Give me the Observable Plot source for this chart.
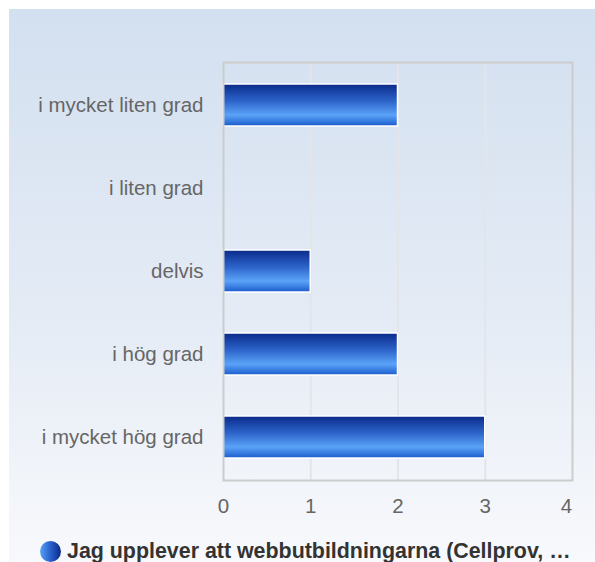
<!DOCTYPE html>
<html>
<head>
<meta charset="utf-8">
<script src="https://cdn.jsdelivr.net/npm/d3@7"></script>
<script src="https://cdn.jsdelivr.net/npm/@observablehq/plot@0.6"></script>
<style>
  html, body { margin: 0; padding: 0; background: #ffffff; }
  #wrap { position: relative; width: 595px; height: 562px; overflow: hidden; font-family: "Liberation Sans", Arial, sans-serif; }
  #panel { position: absolute; left: 9px; top: 9px; right: 0; bottom: 0;
           background: linear-gradient(to bottom, #d3e0f0 0%, #e4ebf5 55%, #f8f9fc 100%); }
  #chart { position: absolute; left: 0; top: 0; }
  #legend { position: absolute; left: 40px; top: 539px; display: flex; align-items: center;
            font-size: 21.4px; font-weight: bold; color: #333; white-space: nowrap; }
  #legend .dot { width: 21px; height: 21px; border-radius: 50%; margin-right: 6px;
                 background: linear-gradient(to right, #5aa2f5 0%, #2b65d2 45%, #0b2a86 100%); }
</style>
</head>
<body>
<svg width="0" height="0" style="position:absolute">
  <defs>
    <linearGradient id="barGrad" x1="0" y1="0" x2="0" y2="1">
      <stop offset="0%" stop-color="#0a2a8a"/>
      <stop offset="40%" stop-color="#2c63c9"/>
      <stop offset="74%" stop-color="#5aa3f8"/>
      <stop offset="100%" stop-color="#1b5bcc"/>
    </linearGradient>
  </defs>
</svg>
<div id="wrap">
  <div id="panel"></div>
  <div id="chart"></div>
  <div id="legend"><span class="dot"></span><span>Jag upplever att webbutbildningarna (Cellprov, …</span></div>
</div>
<script>
const categories = ["i mycket liten grad", "i liten grad", "delvis", "i hög grad", "i mycket hög grad"];
const values = [2, 0, 1, 2, 3];
const xTicks = [0, 1, 2, 3, 4];
const gridTicks = [1, 2, 3];

const data = categories.map((c, i) => ({category: c, value: values[i]}));
const lastTick = xTicks[xTicks.length - 1];

const chart = Plot.plot({
  width: 595,
  height: 525,
  marginLeft: 223,
  marginRight: 23,
  marginTop: 62,
  marginBottom: 45,
  style: {background: "transparent", fontFamily: "'Liberation Sans', Arial, sans-serif", fontSize: "20.5px", color: "#666"},
  x: {domain: [0, 4], ticks: xTicks, tickSize: 0, tickPadding: 18, label: null},
  y: {domain: categories, paddingInner: 0.5, paddingOuter: 0.25, tickSize: 0, tickPadding: 20, label: null},
  marks: [
    Plot.ruleX(gridTicks, {stroke: "#e3e5e9", strokeWidth: 2}),
    Plot.barX(data.filter(d => d.value > 0), {x: "value", y: "category", fill: "url(#barGrad)", stroke: "#ffffff", strokeWidth: 1.5}),
    Plot.frame({stroke: "#cccccc", strokeWidth: 2}),
    Plot.axisX({ticks: xTicks.slice(0, -1), tickFormat: d3.format("d"), tickSize: 0, tickPadding: 18, fill: "#666", fontSize: 20.5, label: null}),
    Plot.axisX({ticks: [lastTick], tickFormat: d3.format("d"), tickSize: 0, tickPadding: 18, fill: "#666", fontSize: 20.5, dx: -6, label: null}),
    Plot.axisY({tickSize: 0, tickPadding: 20, fill: "#666", fontSize: 20.5})
  ]
});
document.getElementById("chart").appendChild(chart);
</script>
</body>
</html>
